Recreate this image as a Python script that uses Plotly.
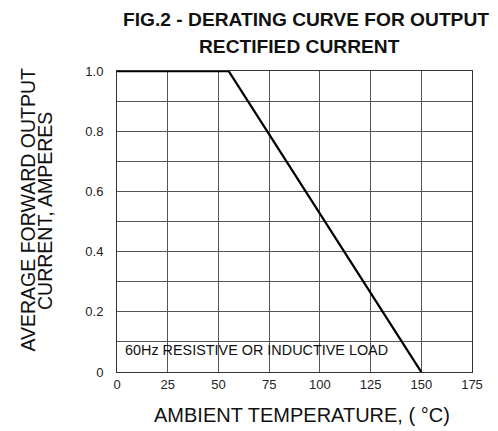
import plotly.graph_objects as go

# Data
temperature = [0, 55, 150]
current = [1.0, 1.0, 0.0]
x_tick_vals = [0, 25, 50, 75, 100, 125, 150, 175]
x_tick_text = ["0", "25", "50", "75", "100", "125", "150", "175"]
y_tick_vals = [0, 0.2, 0.4, 0.6, 0.8, 1.0]
y_tick_text = ["0", "0.2", "0.4", "0.6", "0.8", "1.0"]

FONT = "Liberation Sans, Arial, sans-serif"

fig = go.Figure()
fig.add_trace(go.Scatter(
    x=temperature, y=current, mode="lines",
    line=dict(color="#000000", width=2.3),
    showlegend=False, hoverinfo="skip",
))

# page body has an 8px margin: shift everything up/left by it
OFF = 8
W, H = 498, 431
plot_left, plot_right, plot_top, plot_bottom = 116.5, 472.5, 70.7, 371.7
L = plot_left - OFF
R = W - (plot_right - OFF)
T = plot_top - OFF
B = H - (plot_bottom - OFF)
pw, ph = W - L - R, H - T - B

def px_x(p):
    return (p - OFF - L) / pw

def px_y(p):
    return (H - B - (p - OFF)) / ph

fig.update_layout(
    width=W, height=H,
    margin=dict(l=L, r=R, t=T, b=B, pad=0),
    paper_bgcolor="white", plot_bgcolor="white",
    font=dict(family=FONT, color="#222222", size=13),
    xaxis=dict(
        range=[0, 175], tickvals=x_tick_vals, ticktext=x_tick_text,
        showgrid=True, gridcolor="#555555", gridwidth=1,
        showline=True, linecolor="#333333", linewidth=1, mirror=True,
        zeroline=False, ticks="", tickfont=dict(size=13, color="#222222"),
        fixedrange=True,
    ),
    yaxis=dict(
        range=[0, 1.0], tickvals=y_tick_vals, ticktext=y_tick_text,
        showgrid=True, gridcolor="#555555", gridwidth=1,
        minor=dict(dtick=0.1, showgrid=True, gridcolor="#555555", gridwidth=1),
        showline=True, linecolor="#333333", linewidth=1, mirror=True,
        zeroline=False, ticks="", ticklabelstandoff=10,
        tickfont=dict(size=13, color="#222222"),
        fixedrange=True,
    ),
    shapes=[dict(
        type="rect", xref="paper", yref="paper", layer="between",
        x0=px_x(118), x1=px_x(406), y0=px_y(363), y1=px_y(335),
        fillcolor="white", line=dict(width=0),
    )],
    annotations=[
        dict(text="60Hz RESISTIVE OR INDUCTIVE LOAD", xref="paper", yref="paper",
             x=px_x(123), y=px_y(350), xanchor="left", yanchor="middle",
             showarrow=False, font=dict(size=14.4, color="#111111", family=FONT)),
        dict(text="<b>FIG.2 - DERATING CURVE FOR OUTPUT</b>", xref="paper", yref="paper",
             x=px_x(306), y=px_y(19), xanchor="center", yanchor="middle",
             showarrow=False, font=dict(size=19.2, color="#111111", family=FONT)),
        dict(text="<b>RECTIFIED CURRENT</b>", xref="paper", yref="paper",
             x=px_x(300), y=px_y(46), xanchor="center", yanchor="middle",
             showarrow=False, font=dict(size=19.2, color="#111111", family=FONT)),
        dict(text="AVERAGE FORWARD OUTPUT", xref="paper", yref="paper",
             x=px_x(27.5), y=px_y(209), xanchor="center", yanchor="middle",
             textangle=-90, showarrow=False,
             font=dict(size=19.5, color="#111111", family=FONT)),
        dict(text="CURRENT, AMPERES", xref="paper", yref="paper",
             x=px_x(45), y=px_y(211), xanchor="center", yanchor="middle",
             textangle=-90, showarrow=False,
             font=dict(size=19.5, color="#111111", family=FONT)),
        dict(text="AMBIENT TEMPERATURE, ( °C)", xref="paper", yref="paper",
             x=px_x(302), y=px_y(415), xanchor="center", yanchor="middle",
             showarrow=False, font=dict(size=20, color="#111111", family=FONT)),
    ],
)

fig.write_html("out.html")
